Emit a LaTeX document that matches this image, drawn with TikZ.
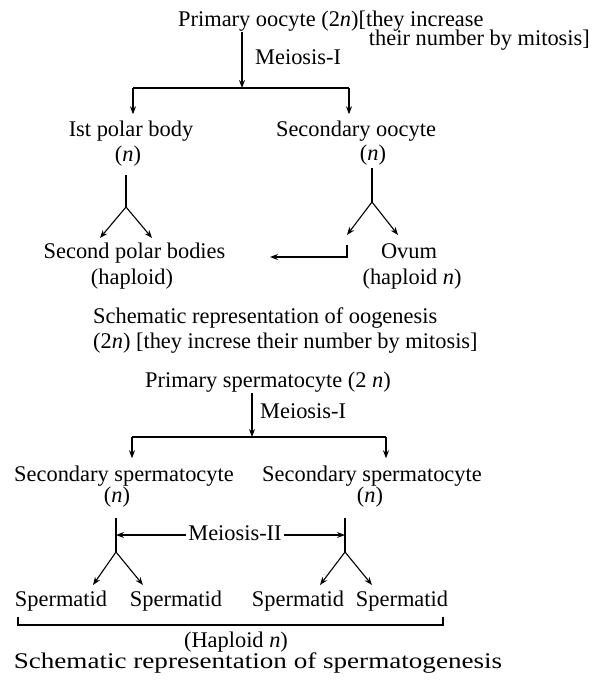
\documentclass[tikz,border=0pt]{standalone}
\usepackage{fontspec}
\setmainfont{Liberation Serif}
\newfontfamily\widefont[FakeStretch=1.21]{Liberation Serif}
\usepackage{tikz}
\usetikzlibrary{arrows.meta, positioning, calc}
\tikzset{
	lbl/.style       ={inner sep=0pt, text height=16pt, text depth=5pt, font=\fontsize{22.4}{26}\selectfont},
	bar/.style       ={line width=1.8pt},
	heavyarrow/.style={-{Stealth[length=8pt, width=6pt]}, line width=1.8pt},
	thinarrow/.style ={-{Stealth[length=8pt, width=6pt]}, line width=1.1pt},
}

\begin{document}
\begin{tikzpicture}[x=1pt, y=-1pt]
	\useasboundingbox (0,0) rectangle (595,684);
	% oogenesis
	\node[lbl, anchor=west] (po) at (178,21) {Primary oocyte (2\textit{n})[they increase};
	\node[lbl, anchor=east] (pomit) at (590,40) {their number by mitosis]};
	\node[lbl, anchor=west] (m1o) at (255,59) {Meiosis-I};
	\node[lbl] (pb1) at (131,131) {Ist polar body};
	\node[lbl] (pb1n) at (128,156) {(\textit{n})};
	\node[lbl] (so1) at (356,131) {Secondary oocyte};
	\node[lbl] (so1n) at (373,155) {(\textit{n})};
	\node[lbl] (spb) at (134.5,253) {Second polar bodies};
	\node[lbl] (hap1) at (132,279) {(haploid)};
	\node[lbl] (ov) at (409,253) {Ovum};
	\node[lbl] (hapn) at (412,279) {(haploid \textit{n})};
	\node[lbl, anchor=west] (cap1) at (93,318) {Schematic representation of oogenesis};
	\node[lbl, anchor=west] (cap1b) at (93,343) {(2\textit{n}) [they increse their number by mitosis]};
	\coordinate (s1) at (242,32); \coordinate (j1) at (242,88);
	\coordinate (bl1) at (133,88); \coordinate (br1) at (349,88);
	\coordinate (t1) at (126,175); \coordinate (f1) at (126,207);
	\coordinate (t2) at (372,168); \coordinate (f2) at (372,202);
	\coordinate (e1) at (347,245); \coordinate (e2) at (270,257);
	\draw[heavyarrow] (s1) -- (j1);
	\draw[bar] (bl1) -- (br1);
	\draw[heavyarrow, shorten >=6pt] (bl1) -- (bl1 |- pb1.north);
	\draw[heavyarrow, shorten >=6pt] (br1) -- (br1 |- so1.north);
	\draw[bar] (t1) -- (f1); \draw[bar] (t2) -- (f2);
	\draw[thinarrow] (f1) -- ++(-26,31); \draw[thinarrow] (f1) -- ++(26,31);
	\draw[thinarrow] (f2) -- ++(-25,33); \draw[thinarrow] (f2) -- ++(26,33);
	\draw[heavyarrow] (e1) |- (e2);
	% spermatogenesis
	\node[lbl] (ps) at (268,382) {Primary spermatocyte (2 \textit{n})};
	\node[lbl, anchor=west] (m1s) at (260,413) {Meiosis-I};
	\node[lbl] (ss1) at (124,476) {Secondary spermatocyte};
	\node[lbl] (ss2) at (372,476) {Secondary spermatocyte};
	\node[lbl] (ss1n) at (117,497) {(\textit{n})};
	\node[lbl] (ss2n) at (370,497) {(\textit{n})};
	\node[lbl, inner xsep=2pt] (mii) at (235,535) {Meiosis-II};
	\node[lbl] (sp1) at (61,601) {Spermatid};
	\node[lbl] (sp2) at (176,601) {Spermatid};
	\node[lbl] (sp3) at (298,601) {Spermatid};
	\node[lbl] (sp4) at (402,601) {Spermatid};
	\node[lbl] (hapN) at (236,642) {(Haploid \textit{n})};
	\node[lbl] (cap2) at (258,663) {\widefont Schematic representation of spermatogenesis};
	\coordinate (s2) at (252,393); \coordinate (j2) at (252,437);
	\coordinate (bl2) at (132,437); \coordinate (br2) at (386,437);
	\coordinate (t3) at (116,518); \coordinate (f3) at (116,552);
	\coordinate (t4) at (345,518); \coordinate (f4) at (345,552);
	\draw[thinarrow] (s2) -- (j2);
	\draw[bar] (bl2) -- (br2);
	\draw[heavyarrow, shorten >=7pt] (bl2) -- (bl2 |- ss1.north);
	\draw[heavyarrow, shorten >=7pt] (br2) -- (br2 |- ss2.north);
	\draw[bar] (t3) -- (f3); \draw[bar] (t4) -- (f4);
	\draw[thinarrow] (mii.west) -- (mii.west -| f3);
	\draw[thinarrow] (mii.east) -- (mii.east -| f4);
	\draw[thinarrow] (f3) -- ++(-23,33); \draw[thinarrow] (f3) -- ++(27,33);
	\draw[thinarrow] (f4) -- ++(-25,33); \draw[thinarrow] (f4) -- ++(27,33);
	\draw[bar] (18,617) |- (443,625) -- (443,617);
\end{tikzpicture}
\end{document}
